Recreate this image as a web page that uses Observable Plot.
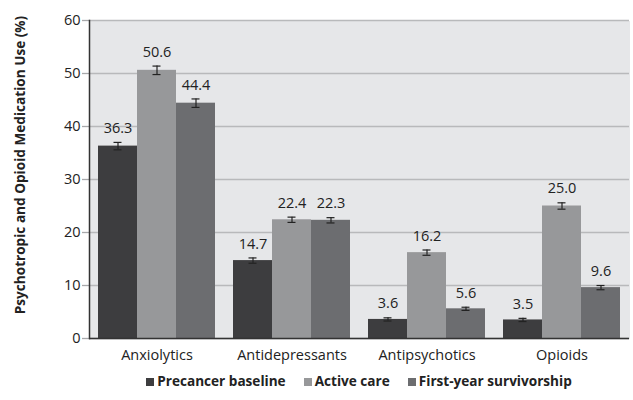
<!DOCTYPE html>
<html>
<head>
<meta charset="utf-8">
<script src="https://cdn.jsdelivr.net/npm/d3@7"></script>
<script src="https://cdn.jsdelivr.net/npm/@observablehq/plot@0.6"></script>
<style>
  html, body { margin: 0; padding: 0; background: #fff; }
  #wrap { position: relative; width: 633px; height: 400px; font-family: "Open Sans", sans-serif; }
  #ylabel { position: absolute; left: 19px; top: 165px; transform: translate(-50%, -50%) rotate(-90deg); white-space: nowrap; font-weight: bold; font-size: 13.6px; color: #222; }
  #legend { position: absolute; top: 371px; left: 0; width: 633px; padding-left: 89px; box-sizing: border-box; display: flex; justify-content: center; gap: 18px; font-weight: bold; font-size: 13.6px; color: #222; padding-right: 4px; }
  #legend span.sw { display: inline-block; width: 8px; height: 8px; margin-right: 3px; vertical-align: 0px; }
</style>
</head>
<body>
<div id="wrap">
  <div id="chart"></div>
  <div id="ylabel"></div>
  <div id="legend"></div>
</div>
<script>
const categories = ["Anxiolytics", "Antidepressants", "Antipsychotics", "Opioids"];
const seriesNames = ["Precancer baseline", "Active care", "First-year survivorship"];
const seriesColors = ["#3d3d3f", "#97989a", "#6c6d70"];
const precancer = [36.3, 14.7, 3.6, 3.5];
const activeCare = [50.6, 22.4, 16.2, 25.0];
const survivorship = [44.4, 22.3, 5.6, 9.6];
const errPrecancer = [0.7, 0.5, 0.3, 0.3];
const errActive = [0.8, 0.5, 0.5, 0.6];
const errSurvivorship = [0.8, 0.5, 0.3, 0.4];
const yTicks = [0, 10, 20, 30, 40, 50, 60];
const yLabel = "Psychotropic and Opioid Medication Use (%)";

const values = [precancer, activeCare, survivorship];
const errors = [errPrecancer, errActive, errSurvivorship];
const data = [];
categories.forEach((c, i) => {
  seriesNames.forEach((s, j) => {
    data.push({category: c, series: s, value: values[j][i], err: errors[j][i]});
  });
});

const chart = Plot.plot({
  width: 633,
  height: 368,
  marginLeft: 89,
  marginRight: 4,
  marginTop: 20,
  marginBottom: 30,
  style: {fontFamily: "'Open Sans', sans-serif", fontSize: "13px", color: "#222", background: "transparent"},
  fx: {domain: categories, padding: 0, label: null, axis: null},
  x: {domain: seriesNames, paddingInner: 0, paddingOuter: 0.2, axis: null},
  y: {domain: [0, 60], axis: null},
  color: {domain: seriesNames, range: seriesColors},
  marks: [
    Plot.frame({fill: "#e6e7e9", shapeRendering: "crispEdges"}),
    Plot.gridY(yTicks, {stroke: "#b8b9bb", strokeOpacity: 1, strokeWidth: 1.3}),
    Plot.axisY(yTicks, {tickSize: 7, tickPadding: 2, stroke: "#a8a9ab", strokeWidth: 1.3, fill: "#222", fontSize: 14.5, label: null}),
    Plot.axisFx({anchor: "bottom", tickSize: 0, tickPadding: 11, fontSize: 14.5, fill: "#222", label: null}),
    Plot.barY(data, {fx: "category", x: "series", y: "value", fill: "series"}),
    Plot.ruleX(data, {fx: "category", x: "series", y1: d => d.value - d.err, y2: d => d.value + d.err, stroke: "#222", strokeWidth: 1.2}),
    Plot.tickY(data, {fx: "category", x: "series", y: d => d.value - d.err, stroke: "#222", strokeWidth: 1.2, inset: 15.5}),
    Plot.tickY(data, {fx: "category", x: "series", y: d => d.value + d.err, stroke: "#222", strokeWidth: 1.2, inset: 15.5}),
    Plot.text(data, {fx: "category", x: "series", y: d => d.value + d.err, text: d => d.value.toFixed(1), dy: -14, fontSize: 14.5, fill: "#222"}),
    Plot.ruleY([0], {stroke: "#333", strokeWidth: 1.5}),
    Plot.frame({anchor: "left", facetAnchor: "left", stroke: "#333", strokeWidth: 1.5})
  ]
});
document.getElementById("chart").appendChild(chart);
document.getElementById("ylabel").textContent = yLabel;

const legend = document.getElementById("legend");
seriesNames.forEach((s, j) => {
  const item = document.createElement("div");
  const sw = document.createElement("span");
  sw.className = "sw";
  sw.style.background = seriesColors[j];
  item.appendChild(sw);
  item.appendChild(document.createTextNode(s));
  legend.appendChild(item);
});
</script>
</body>
</html>
